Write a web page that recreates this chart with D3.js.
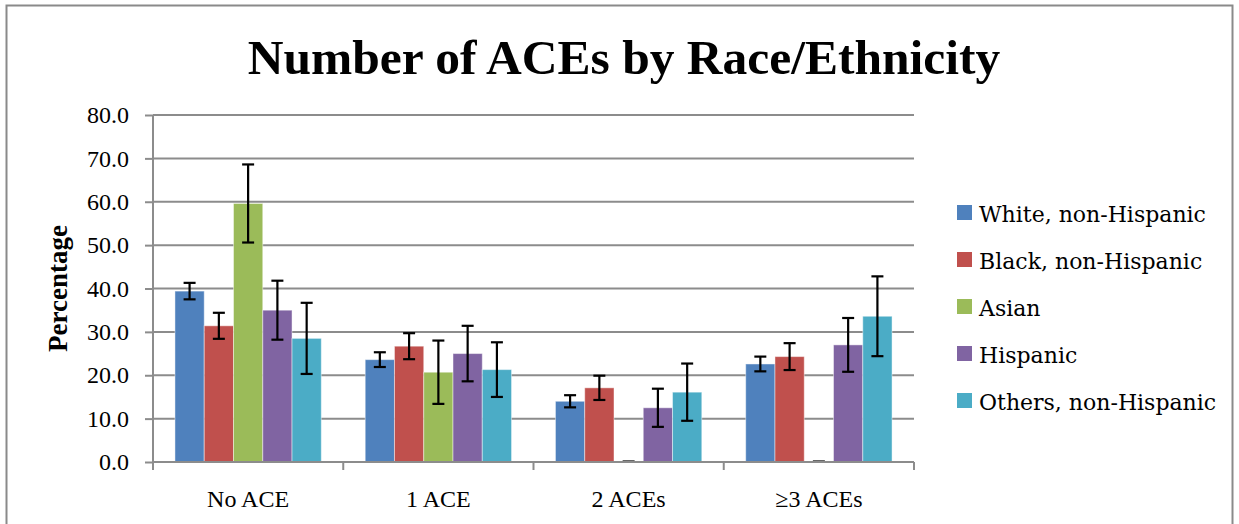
<!DOCTYPE html>
<html><head><meta charset="utf-8">
<script src="https://cdn.jsdelivr.net/npm/d3@7"></script>
<style>body{margin:0;background:#fff}svg{display:block}</style>
</head><body><svg id="c" width="1239" height="524"></svg>
<script>
const categories = ["No ACE", "1 ACE", "2 ACEs", "≥3 ACEs"];
const seriesNames = ["White, non-Hispanic", "Black, non-Hispanic", "Asian", "Hispanic", "Others, non-Hispanic"];
const white    = [39.4, 23.6, 14.0, 22.6];
const black    = [31.4, 26.7, 17.1, 24.3];
const asian    = [59.6, 20.7, 0.0, 0.0];
const hispanic = [35.0, 25.0, 12.5, 27.0];
const others   = [28.5, 21.3, 16.1, 33.6];
const whiteErr    = [1.9, 1.7, 1.4, 1.7];
const blackErr    = [3.0, 3.0, 2.8, 3.1];
const asianErr    = [9.0, 7.3, 0, 0];
const hispanicErr = [6.8, 6.4, 4.4, 6.2];
const othersErr   = [8.2, 6.3, 6.6, 9.2];
const yTicks = [0, 10, 20, 30, 40, 50, 60, 70, 80];
const colors = ["#4F81BD", "#C0504D", "#9BBB59", "#8064A2", "#4BACC6"];

const values = [white, black, asian, hispanic, others];
const errs = [whiteErr, blackErr, asianErr, hispanicErr, othersErr];

const svg = d3.select("#c");
const font = "'Liberation Serif', 'DejaVu Serif', serif";
const L = 153, R = 914, T = 115, B = 462;

svg.append("rect").attr("x", 6.5).attr("y", 5.5).attr("width", 1226).attr("height", 530)
  .attr("fill", "none").attr("stroke", "#8a8a8a").attr("stroke-width", 2);

svg.append("text").attr("x", 624).attr("y", 74).attr("text-anchor", "middle")
  .attr("font-family", font).attr("font-weight", "bold").attr("font-size", 49.5)
  .attr("fill", "#000").text("Number of ACEs by Race/Ethnicity");

const x0 = d3.scaleBand().domain(categories).range([L, R]).paddingInner(0).paddingOuter(0);
const x1 = d3.scaleBand().domain(d3.range(5)).range([0, x0.bandwidth()]).paddingOuter(0.75).paddingInner(0);
const y = d3.scaleLinear().domain([0, 80]).range([B, T]);

// gridlines
svg.append("g").selectAll("line").data(yTicks.slice(1)).join("line")
  .attr("x1", L).attr("x2", R).attr("y1", d => y(d)).attr("y2", d => y(d))
  .attr("stroke", "#8c8c8c").attr("stroke-width", 2);

// y axis
const ya = svg.append("g").attr("transform", `translate(${L},0)`)
  .call(d3.axisLeft(y).tickValues(yTicks).tickFormat(d3.format(".1f")).tickSize(8).tickPadding(16));
ya.select(".domain").attr("stroke", "#8c8c8c").attr("stroke-width", 2).attr("d", `M0,${B}V${T}`);
ya.selectAll(".tick line").attr("stroke", "#8c8c8c").attr("stroke-width", 2);
ya.selectAll("text").attr("font-family", font).attr("font-size", 24).attr("fill", "#000");

// bars
const groups = svg.append("g").selectAll("g").data(categories).join("g")
  .attr("transform", d => `translate(${x0(d)},0)`);
groups.each(function(cat, ci) {
  const g = d3.select(this);
  values.forEach((vals, si) => {
    const v = vals[ci];
    const bx = x1(si), bw = x1.bandwidth();
    if (v > 0) {
      g.append("rect").attr("x", bx).attr("width", bw).attr("y", y(v)).attr("height", y(0) - y(v))
        .attr("fill", colors[si]).attr("stroke", "rgba(255,255,255,0.45)").attr("stroke-width", 1);
      const e = errs[si][ci];
      if (e > 0) {
        const cx = bx + bw / 2;
        const eg = g.append("g").attr("stroke", "#000").attr("stroke-width", 2.2);
        eg.append("line").attr("x1", cx).attr("x2", cx).attr("y1", y(v + e)).attr("y2", y(v - e));
        eg.append("line").attr("x1", cx - 6).attr("x2", cx + 6).attr("y1", y(v + e)).attr("y2", y(v + e));
        eg.append("line").attr("x1", cx - 6).attr("x2", cx + 6).attr("y1", y(v - e)).attr("y2", y(v - e));
      }
    } else {
      const cx = bx + bw / 2;
      g.append("line").attr("x1", cx - 6).attr("x2", cx + 6).attr("y1", y(v) - 1).attr("y2", y(v) - 1)
        .attr("stroke", "#333").attr("stroke-width", 1.5);
    }
  });
});

// x axis
const xa = svg.append("g").attr("transform", `translate(0,${B})`);
xa.append("line").attr("x1", L).attr("x2", R).attr("y1", 0).attr("y2", 0)
  .attr("stroke", "#8c8c8c").attr("stroke-width", 2);
xa.selectAll(".tk").data(categories.map(c => x0(c)).concat([R])).join("line")
  .attr("x1", d => d).attr("x2", d => d).attr("y1", 0).attr("y2", 8)
  .attr("stroke", "#8c8c8c").attr("stroke-width", 2);
xa.selectAll("text").data(categories).join("text")
  .attr("x", d => x0(d) + x0.bandwidth() / 2).attr("y", 45).attr("text-anchor", "middle")
  .attr("font-family", font).attr("font-size", 24).attr("fill", "#000").text(d => d);

// y title
svg.append("text").attr("transform", `translate(67,${(T + B) / 2}) rotate(-90)`).attr("text-anchor", "middle")
  .attr("font-family", font).attr("font-weight", "bold").attr("font-size", 27).attr("fill", "#000").text("Percentage");

// legend
const lg = svg.append("g").selectAll("g").data(seriesNames).join("g")
  .attr("transform", (d, i) => `translate(957,${213 + i * 47})`);
lg.append("rect").attr("x", 0).attr("y", -8).attr("width", 15).attr("height", 15).attr("fill", (d, i) => colors[i]);
lg.append("text").attr("x", 22).attr("y", 8.5).attr("font-family", "'DejaVu Serif', serif").attr("font-size", 22).attr("fill", "#000").text(d => d);
</script></body></html>
